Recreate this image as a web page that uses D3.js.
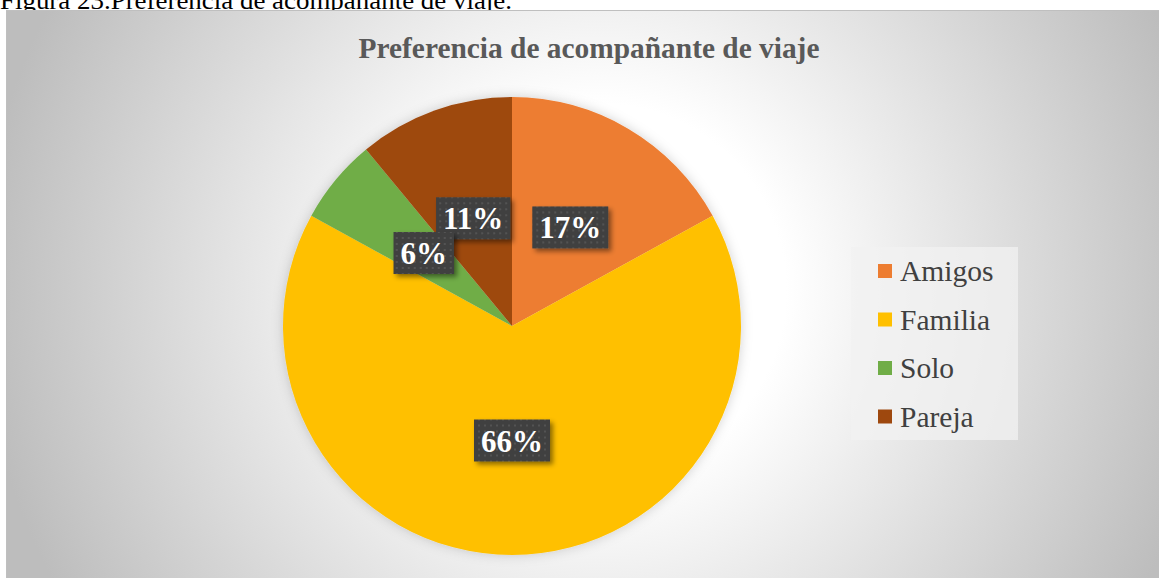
<!DOCTYPE html>
<html>
<head>
<meta charset="utf-8">
<script src="https://cdn.jsdelivr.net/npm/d3@7"></script>
<style>
  html, body { margin: 0; padding: 0; background: #fff; }
  svg { display: block; }
  text { font-family: "Times New Roman", "Liberation Serif", Times, serif; }
</style>
</head>
<body>
<div id="grafica"></div>
<script>
// datos del grafico
var categorias = ["Amigos", "Familia", "Solo", "Pareja"];
var porcentajes = [17, 66, 6, 11];
var colores = ["#ED7D31", "#FFC000", "#70AD47", "#9E480E"];

var width = 1159,
    height = 578;

var svg = d3.select("#grafica")
    .append("svg")
    .attr("width", width)
    .attr("height", height);

var defs = svg.append("defs");

var grad = defs.append("radialGradient")
    .attr("id", "fondo")
    .attr("gradientUnits", "userSpaceOnUse")
    .attr("cx", 600).attr("cy", 290).attr("r", 620);
grad.append("stop").attr("offset", 0).attr("stop-color", "#ffffff");
grad.append("stop").attr("offset", 0.3).attr("stop-color", "#ffffff");
grad.append("stop").attr("offset", 1).attr("stop-color", "#bdbdbd");

var puntos = defs.append("pattern")
    .attr("id", "puntos")
    .attr("patternUnits", "userSpaceOnUse")
    .attr("width", 6).attr("height", 6);
puntos.append("rect").attr("width", 6).attr("height", 6).attr("fill", "#404040");
puntos.append("rect").attr("x", 2).attr("y", 2).attr("width", 2).attr("height", 2).attr("fill", "#535353");

var sombra = defs.append("filter").attr("id", "sombra")
    .attr("x", "-20%").attr("y", "-20%").attr("width", "150%").attr("height", "150%");
sombra.append("feDropShadow")
    .attr("dx", 3).attr("dy", 3).attr("stdDeviation", 2.5)
    .attr("flood-color", "#000").attr("flood-opacity", 0.45);

var sombraPie = defs.append("filter").attr("id", "sombraPie")
    .attr("x", "-10%").attr("y", "-10%").attr("width", "120%").attr("height", "120%");
sombraPie.append("feDropShadow")
    .attr("dx", 0).attr("dy", 0).attr("stdDeviation", 6)
    .attr("flood-color", "#000").attr("flood-opacity", 0.18);

// leyenda de la figura (queda tapada en parte por el grafico, como en el original)
svg.append("text")
    .attr("x", 0).attr("y", 9)
    .attr("textLength", 512)
    .attr("lengthAdjust", "spacingAndGlyphs")
    .style("font-size", "25px")
    .style("fill", "#000")
    .text("Figura 23.Preferencia de acompañante de viaje.");

// area del grafico
svg.append("rect")
    .attr("x", 6.5).attr("y", 10.5)
    .attr("width", width).attr("height", height)
    .attr("fill", "url(#fondo)")
    .attr("stroke", "#bfbfbf")
    .attr("stroke-width", 1);

svg.append("text")
    .attr("x", 589).attr("y", 58)
    .attr("text-anchor", "middle")
    .style("font-weight", "bold")
    .style("font-size", "29.4px")
    .style("fill", "#595959")
    .text("Preferencia de acompañante de viaje");

var cx = 512, cy = 326, radio = 229;

var pie = d3.pie().sort(null).value(function(d) { return d; });
var arc = d3.arc().innerRadius(0).outerRadius(radio);
var arcos = pie(porcentajes);

var g = svg.append("g").attr("transform", "translate(" + cx + "," + cy + ")");

g.append("g").attr("filter", "url(#sombraPie)")
    .selectAll("path")
    .data(arcos)
    .enter()
        .append("path")
        .attr("d", arc)
        .attr("fill", function(d, i) { return colores[i]; });

// etiquetas de porcentaje
var dibujo = [0, 1, 3, 2];
dibujo.forEach(function(i) {
    var c = arc.centroid(arcos[i]);
    var et = g.append("g").attr("transform", "translate(" + c[0] + "," + c[1] + ")");
    var caja = et.append("rect").attr("fill", "url(#puntos)").attr("filter", "url(#sombra)");
    var txt = et.append("text")
        .attr("text-anchor", "middle")
        .attr("y", 11)
        .style("font-weight", "bold")
        .style("font-size", "31px")
        .style("fill", "#ffffff")
        .text(porcentajes[i] + "%");
    var w = txt.node().getComputedTextLength() + 14;
    caja.attr("x", -w / 2).attr("y", -21).attr("width", w).attr("height", 42);
});

// leyenda
var ley = svg.append("g");
ley.append("rect")
    .attr("x", 851).attr("y", 247)
    .attr("width", 167).attr("height", 193)
    .attr("fill", "#f2f2f2")
    .attr("opacity", 0.75);

var filas = ley.selectAll("g.fila")
    .data(categorias)
    .enter()
        .append("g")
        .attr("class", "fila")
        .attr("transform", function(d, i) { return "translate(878," + (271 + i * 48.5) + ")"; });

filas.append("rect")
    .attr("x", 0).attr("y", -7)
    .attr("width", 14).attr("height", 14)
    .attr("fill", function(d, i) { return colores[i]; });

filas.append("text")
    .attr("x", 22).attr("y", 10)
    .style("font-size", "29.5px")
    .style("fill", "#404040")
    .text(function(d) { return d; });
</script>
</body>
</html>
